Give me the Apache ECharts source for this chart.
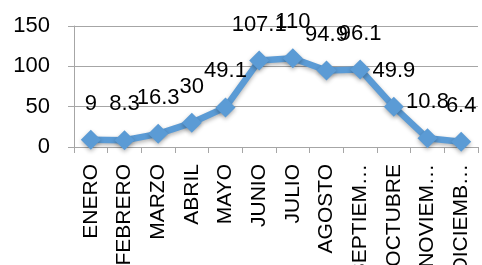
<!DOCTYPE html>
<html>
<head>
<meta charset="utf-8">
<script src="https://cdn.jsdelivr.net/npm/echarts@6/dist/echarts.min.js"></script>
<style>
  html, body { margin: 0; padding: 0; background: #fff; }
  #chart { width: 482px; height: 265px; }
</style>
</head>
<body>
<div id="chart"></div>
<script>
const meses = ['ENERO', 'FEBRERO', 'MARZO', 'ABRIL', 'MAYO', 'JUNIO', 'JULIO',
  'AGOSTO', 'SEPTIEMBRE', 'OCTUBRE', 'NOVIEMBRE', 'DICIEMBRE'];
const valores = [9, 8.3, 16.3, 30, 49.1, 107.1, 110, 94.9, 96.1, 49.9, 10.8, 6.4];
const ticksY = [0, 50, 100, 150];

const chart = echarts.init(document.getElementById('chart'));
const fuente = 'Liberation Sans';

chart.setOption({
  animation: false,
  grid: { left: 74, right: 4, top: 26, bottom: 118, outerBoundsMode: 'none', containLabel: false },
  xAxis: {
    type: 'category',
    data: meses,
    boundaryGap: true,
    axisLine: { lineStyle: { color: '#a6a6a6', width: 1 } },
    axisTick: { show: true, length: 6, lineStyle: { color: '#a6a6a6' } },
    axisLabel: {
      rotate: 90,
      interval: 0,
      margin: 17,
      color: '#000',
      fontFamily: fuente,
      fontSize: 21,
      width: 116,
      overflow: 'truncate',
      ellipsis: '…'
    }
  },
  yAxis: {
    type: 'value',
    min: ticksY[0],
    max: ticksY[ticksY.length - 1],
    interval: 50,
    axisLine: { show: true, lineStyle: { color: '#a6a6a6' } },
    axisTick: { show: true, length: 6, lineStyle: { color: '#a6a6a6' } },
    splitLine: { lineStyle: { color: '#a6a6a6' } },
    axisLabel: { color: '#000', fontFamily: fuente, fontSize: 22, margin: 24 }
  },
  series: [{
    type: 'line',
    data: valores,
    symbol: 'diamond',
    symbolSize: 20,
    lineStyle: {
      color: '#5b9bd5', width: 6.5,
      shadowColor: 'rgba(0,0,0,0.3)', shadowBlur: 4, shadowOffsetY: 2
    },
    itemStyle: {
      color: '#5b9bd5',
      shadowColor: 'rgba(0,0,0,0.3)', shadowBlur: 4, shadowOffsetY: 2
    },
    label: {
      show: true,
      position: 'top',
      distance: 15,
      color: '#000',
      fontFamily: fuente,
      fontSize: 22
    }
  }]
});
</script>
</body>
</html>
